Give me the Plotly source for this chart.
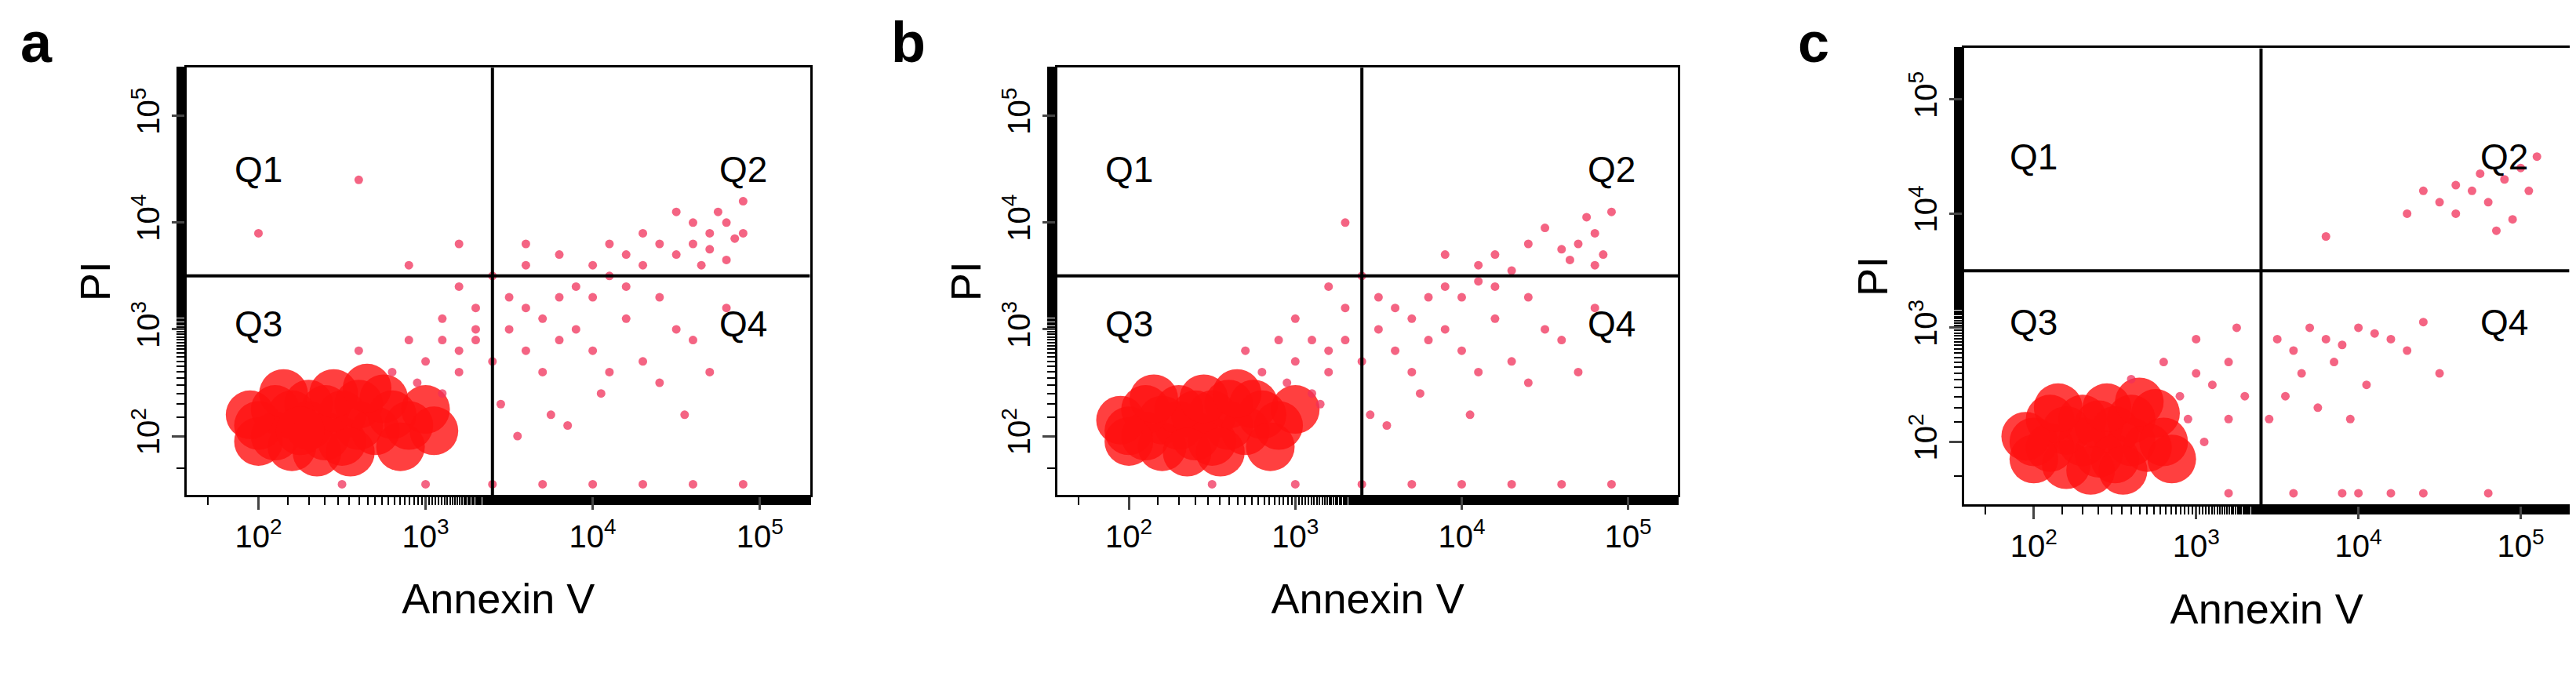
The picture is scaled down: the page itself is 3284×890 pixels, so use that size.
import plotly.graph_objects as go

# log10 coordinates (Annexin V, PI)
a_core_x = [2.0, 2.1, 2.2, 2.3, 2.4, 2.5, 2.6, 2.2, 2.3, 2.4, 2.5, 2.6, 2.7, 2.8, 2.1, 2.0, 1.95, 2.35, 2.55, 2.75, 2.9, 3.0, 2.45, 2.15, 2.65, 2.85, 3.05, 2.25]
a_core_y = [2.1, 2.0, 2.2, 2.1, 2.0, 2.2, 2.1, 1.9, 2.3, 2.25, 1.95, 2.3, 2.05, 2.2, 2.25, 1.95, 2.2, 1.85, 1.85, 2.35, 2.1, 2.25, 2.4, 2.4, 2.45, 1.9, 2.05, 2.05]
a_x = [2.95, 3.1, 3.2, 2.8, 3.0, 3.2, 3.3, 3.1, 3.4, 3.5, 3.6, 3.7, 3.8, 3.9, 4.0, 3.6, 3.8, 4.1, 4.2, 4.3, 3.5, 3.3, 3.9, 4.0, 4.2, 4.4, 4.5, 4.6, 4.8, 4.3, 3.7, 4.1, 3.2, 3.4, 4.4, 4.7, 3.6,
       4.5, 4.6, 4.7, 4.8, 4.7, 4.85, 4.6, 4.75, 4.9, 4.4, 4.3, 4.5, 4.2, 4.0, 4.1, 4.8, 4.65, 3.8, 3.6, 4.9,
       3.4, 3.7, 4.0, 4.3, 4.6, 4.9, 2.5, 3.0, 2.6, 2.0, 3.2, 2.9, 2.9, 3.1, 2.6, 3.3, 3.45, 3.75, 4.05, 4.55, 3.55, 3.85]
a_y = [2.5, 2.4, 2.6, 2.6, 2.7, 2.8, 2.9, 2.9, 2.7, 3.0, 3.2, 3.1, 3.3, 3.4, 3.3, 2.8, 2.9, 3.5, 3.4, 3.6, 3.3, 3.2, 3.0, 2.8, 3.1, 3.3, 3.0, 2.9, 3.2, 2.7, 2.6, 2.6, 3.4, 3.5, 2.5, 2.6, 3.6,
       3.7, 3.8, 3.9, 4.0, 3.75, 3.85, 4.0, 4.1, 4.2, 3.8, 3.9, 4.1, 3.7, 3.6, 3.8, 3.65, 3.6, 3.7, 3.8, 3.9,
       1.55, 1.55, 1.55, 1.55, 1.55, 1.55, 1.55, 1.55, 4.4, 3.9, 3.8, 3.6, 2.9, 3.1, 2.8, 3.0, 2.3, 2.2, 2.4, 2.2, 2.0, 2.1]

b_core_x = [2.0, 2.1, 2.2, 2.3, 2.4, 2.5, 2.6, 2.2, 2.3, 2.4, 2.5, 2.6, 2.7, 2.8, 2.1, 2.0, 1.95, 2.35, 2.55, 2.75, 2.9, 3.0, 2.45, 2.15, 2.65, 2.85]
b_core_y = [2.05, 2.0, 2.15, 2.1, 2.0, 2.2, 2.1, 1.9, 2.25, 2.2, 1.95, 2.3, 2.05, 2.2, 2.25, 1.95, 2.15, 1.85, 1.85, 2.3, 2.1, 2.25, 2.35, 2.35, 2.4, 1.9]
b_x = [2.95, 3.1, 3.2, 2.8, 3.0, 3.2, 3.3, 3.1, 3.4, 3.5, 3.6, 3.7, 3.8, 3.9, 4.0, 3.6, 3.8, 4.1, 4.2, 4.3, 3.5, 3.3, 3.9, 4.0, 4.2, 4.4, 4.5, 4.6, 4.8, 4.3, 3.7, 4.1, 3.2, 3.4, 4.4, 4.7,
       4.6, 4.7, 4.8, 4.75, 4.85, 4.65, 4.9, 4.4, 4.5, 4.2, 4.1, 4.8, 3.9,
       3.4, 3.7, 4.0, 4.3, 4.6, 4.9, 2.5, 3.0, 3.3, 2.9, 3.0, 2.7, 3.15, 3.45, 3.75, 4.05, 3.55]
b_y = [2.5, 2.4, 2.6, 2.6, 2.7, 2.8, 2.9, 2.9, 2.7, 3.0, 3.2, 3.1, 3.3, 3.4, 3.3, 2.8, 2.9, 3.45, 3.4, 3.55, 3.3, 3.2, 3.0, 2.8, 3.1, 3.3, 3.0, 2.9, 3.2, 2.7, 2.6, 2.6, 3.4, 3.5, 2.5, 2.6,
       3.75, 3.8, 3.9, 4.05, 3.7, 3.65, 4.1, 3.8, 3.95, 3.7, 3.6, 3.6, 3.7,
       1.55, 1.55, 1.55, 1.55, 1.55, 1.55, 1.55, 1.55, 4.0, 2.9, 3.1, 2.8, 2.3, 2.2, 2.4, 2.2, 2.1]

c_core_x = [2.0, 2.1, 2.2, 2.3, 2.4, 2.5, 2.6, 2.2, 2.3, 2.4, 2.5, 2.6, 2.7, 2.1, 2.0, 1.95, 2.35, 2.55, 2.75, 2.8, 2.45, 2.15, 2.65, 2.85]
c_core_y = [2.0, 1.95, 2.1, 2.0, 1.9, 2.1, 2.0, 1.8, 2.2, 2.15, 1.85, 2.2, 1.95, 2.2, 1.85, 2.05, 1.75, 1.75, 2.25, 2.0, 2.3, 2.3, 2.35, 1.85]
c_x = [2.9, 3.0, 3.1, 3.2, 2.95, 3.05, 3.2, 3.3, 3.0, 2.8, 2.6, 3.25,
       3.5, 3.6, 3.7, 3.8, 3.9, 4.0, 4.1, 4.2, 4.3, 4.4, 3.65, 3.85, 4.05, 3.55, 3.75, 3.95, 4.5, 3.45,
       4.3, 4.5, 4.6, 4.7, 4.8, 4.9, 5.0, 5.05, 4.95, 4.85, 4.4, 4.75, 4.6, 5.1, 3.8,
       3.6, 4.0, 4.4, 4.8, 3.2, 3.9, 4.2]
c_y = [2.4, 2.6, 2.5, 2.7, 2.2, 2.0, 2.2, 2.4, 2.9, 2.7, 2.55, 3.0,
       2.9, 2.8, 3.0, 2.9, 2.85, 3.0, 2.95, 2.9, 2.8, 3.05, 2.6, 2.7, 2.5, 2.4, 2.3, 2.2, 2.6, 2.2,
       4.0, 4.1, 4.0, 4.2, 4.1, 4.3, 4.4, 4.2, 3.95, 3.85, 4.2, 4.35, 4.25, 4.5, 3.8,
       1.55, 1.55, 1.55, 1.55, 1.55, 1.55, 1.55]

panels = [("a", a_core_x, a_core_y, a_x, a_y), ("b", b_core_x, b_core_y, b_x, b_y), ("c", c_core_x, c_core_y, c_x, c_y)]
x_domains = [[0.070, 0.312], [0.408, 0.649], [0.760, 0.995]]
y_domains = [[0.300, 0.912], [0.300, 0.912], [0.286, 0.940]]
x_gate, y_gate = 10 ** 3.4, 10 ** 3.5
tick_vals = [100, 1000, 10000, 100000]
tick_text = ["10<sup>2</sup>", "10<sup>3</sup>", "10<sup>4</sup>", "10<sup>5</sup>"]
FONT = "Liberation Sans"

fig = go.Figure()
for i, (lab, cx, cy, sx, sy) in enumerate(panels):
    n = "" if i == 0 else str(i + 1)
    xa, ya = "x" + n, "y" + n
    fig.add_trace(go.Scatter(x=[10 ** v for v in cx], y=[10 ** v for v in cy], mode="markers", xaxis=xa, yaxis=ya,
                             marker=dict(size=62, color="#ff1010", opacity=0.8, line_width=0), showlegend=False))
    fig.add_trace(go.Scatter(x=[10 ** v for v in sx], y=[10 ** v for v in sy], mode="markers", xaxis=xa, yaxis=ya,
                             marker=dict(size=11, color="#f0305a", opacity=0.75, line_width=0), showlegend=False))
    axis_common = dict(type="log", showgrid=False, zeroline=False, showline=True, linecolor="black", linewidth=3,
                       mirror=True, ticks="outside", ticklen=16, tickwidth=3, tickvals=tick_vals, ticktext=tick_text,
                       tickfont=dict(family=FONT, size=40, color="black"),
                       minor=dict(ticks="outside", ticklen=10, tickwidth=2, tickcolor="black"))
    fig.layout["xaxis" + n] = dict(axis_common, domain=x_domains[i], range=[1.57, 5.3], anchor=ya,
                                   title=dict(text="Annexin V", font=dict(family=FONT, size=54, color="black"), standoff=40))
    fig.layout["yaxis" + n] = dict(axis_common, domain=y_domains[i], range=[1.45, 5.45], anchor=xa, tickangle=-90,
                                   title=dict(text="PI", font=dict(family=FONT, size=54, color="black"), standoff=4))
    # quadrant gates
    fig.add_shape(type="line", xref=xa, yref=ya, x0=x_gate, x1=x_gate, y0=10 ** 1.45, y1=10 ** 5.45, line=dict(color="black", width=4))
    fig.add_shape(type="line", xref=xa, yref=ya, x0=10 ** 1.57, x1=10 ** 5.3, y0=y_gate, y1=y_gate, line=dict(color="black", width=4))
    for qt, qx, qy in [("Q1", 2.0, 4.5), ("Q2", 4.9, 4.5), ("Q3", 2.0, 3.05), ("Q4", 4.9, 3.05)]:
        fig.add_annotation(text=qt, x=qx, y=qy, xref=xa, yref=ya, showarrow=False,
                           font=dict(family=FONT, size=46, color="black"))
    fig.add_annotation(text="<b>" + lab + "</b>", x=x_domains[i][0] - 0.065, y=0.995, xref="paper", yref="paper",
                       xanchor="left", yanchor="top", showarrow=False, font=dict(family=FONT, size=72, color="black"))

fig.update_layout(width=3284, height=890, margin=dict(l=0, r=0, t=0, b=0), plot_bgcolor="white", paper_bgcolor="white")
fig.write_html("out.html")
